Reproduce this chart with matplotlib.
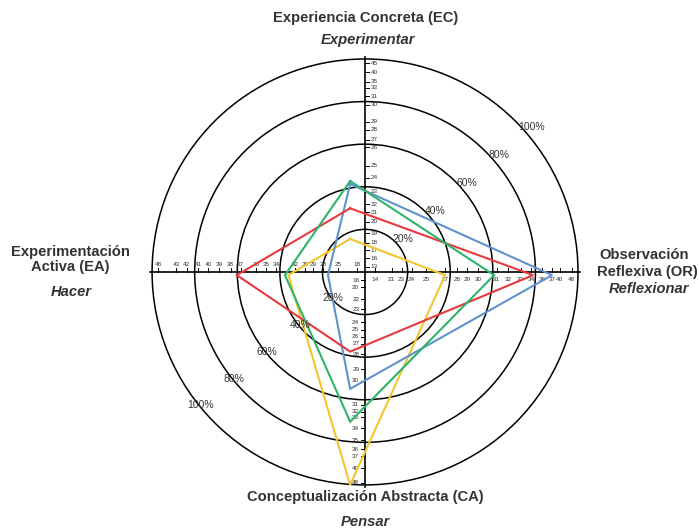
import numpy as np
import matplotlib
matplotlib.use("Agg")
import matplotlib.pyplot as plt
from matplotlib.patches import Circle

plt.rcParams["font.family"] = ["Liberation Sans", "DejaVu Sans"]

# ── Axis scales: raw score labels and where they sit (percent of outer ring) ──
EC_LABELS = [13, 16, 17, 18, 19, 20, 21, 22, 23, 24, 25, 26, 27, 28, 29, 30, 31, 33, 35, 40, 45]
EC_PCT = [2.5, 6.4, 10.3, 13.8, 18.2, 23.6, 28.0, 31.9, 37.7, 44.3, 49.8, 58.5, 62.0,
          66.7, 70.6, 78.4, 82.6, 86.5, 89.3, 93.8, 98.0]

OR_LABELS = [14, 21, 23, 24, 25, 27, 28, 29, 30, 31, 32, 33, 34, 36, 37, 40, 48]
OR_PCT = [4.7, 12.5, 17.2, 21.9, 28.6, 37.6, 43.1, 48.0, 53.2, 61.8, 67.3, 73.0, 77.9,
          83.1, 87.8, 91.5, 97.0]

CA_LABELS = [16, 20, 22, 23, 24, 25, 26, 27, 28, 29, 30, 31, 32, 33, 34, 35, 36, 37, 40, 48]
CA_PCT = [3.8, 7.2, 12.8, 17.5, 23.6, 27.2, 30.4, 33.8, 38.6, 45.7, 51.2, 62.4, 65.6,
          68.3, 73.4, 79.1, 83.3, 86.5, 92.2, 99.1]

EA_LABELS = [18, 25, 28, 29, 30, 32, 34, 35, 36, 37, 38, 39, 40, 41, 42, 43, 48]
EA_PCT = [3.9, 12.5, 19.6, 24.3, 28.2, 32.9, 41.8, 46.5, 51.2, 58.4, 63.1, 68.5, 73.6,
          78.3, 83.7, 88.7, 97.0]

RINGS = [20, 40, 60, 80, 100]

# ── Series (percent along each axis: EC, OR, CA, EA) ──
blue = [41.3, 87.8, 54.9, 17.4]
green = [42.7, 60.6, 70.3, 37.6]
red = [29.9, 78.9, 37.4, 60.2]
yellow = [15.5, 37.6, 100.0, 36.0]

series = [
    (yellow, "#f2c531"),
    (blue, "#5f93cc"),
    (red, "#e63a3f"),
    (green, "#2eb36b"),
]

TXT = "#333333"
VERT_SHIFT = -7.0    # vertices on EC/CA sit a bit left of the axis in the original
HORZ_SHIFT = -1.5

fig = plt.figure(figsize=(6.99, 5.29), dpi=100)
ax = fig.add_axes([0, 0, 1, 1])
ax.set_xlim(-171.4, 156.8)
ax.set_ylim(-120.7, 127.7)
ax.set_aspect("equal")
ax.axis("off")

# rings
for r in RINGS:
    ax.add_patch(Circle((0, 0), r, fill=False, ec="black", lw=1.1, zorder=2))

# axes lines
ax.plot([-101, 101], [0, 0], color="black", lw=1.2, zorder=3)
ax.plot([0, 0], [-101, 101], color="black", lw=1.2, zorder=3)

tk = 1.9
fs = 4.6
for lab, p in zip(EC_LABELS, EC_PCT):
    ax.plot([0, tk], [p, p], color="black", lw=0.7, zorder=3)
    ax.text(tk + 0.8, p, str(lab), fontsize=fs, ha="left", va="center", color=TXT)
for lab, p in zip(CA_LABELS, CA_PCT):
    ax.plot([0, -tk], [-p, -p], color="black", lw=0.7, zorder=3)
    ax.text(-tk - 0.8, -p, str(lab), fontsize=fs, ha="right", va="center", color=TXT)
for lab, p in zip(OR_LABELS, OR_PCT):
    ax.plot([p, p], [0, tk], color="black", lw=0.7, zorder=3)
    ax.text(p, -3.6, str(lab), fontsize=fs, ha="center", va="center", color=TXT)
for lab, p in zip(EA_LABELS, EA_PCT):
    ax.plot([-p, -p], [0, tk], color="black", lw=0.7, zorder=3)
    ax.text(-p, 3.6, str(lab), fontsize=fs, ha="center", va="center", color=TXT)

# ring percentage labels
for r in RINGS:
    a1 = np.deg2rad(41)
    ax.text((r + 3.5) * np.cos(a1), (r + 3.5) * np.sin(a1), f"{r}%",
            fontsize=7.5, ha="center", va="center", color=TXT, zorder=5)
    a2 = np.deg2rad(219)
    ax.text((r - 0.5) * np.cos(a2), (r - 0.5) * np.sin(a2), f"{r}%",
            fontsize=7.5, ha="center", va="center", color=TXT, zorder=5)

# polygons
for vals, col in series:
    ec, orr, ca, ea = vals
    xs = [VERT_SHIFT, orr, VERT_SHIFT, -ea, VERT_SHIFT]
    ys = [ec, HORZ_SHIFT, -ca, HORZ_SHIFT, ec]
    ax.plot(xs, ys, color=col, lw=1.5, zorder=4, solid_joinstyle="miter")

# axis titles
tfs = 10.6
ax.text(0.5, 119.2, "Experiencia Concreta (EC)", fontsize=tfs, fontweight="bold",
        ha="center", va="center", color=TXT)
ax.text(1.5, 108.9, "Experimentar", fontsize=tfs, fontweight="bold", style="italic",
        ha="center", va="center", color=TXT)

ax.text(0, -105.5, "Conceptualización Abstracta (CA)", fontsize=tfs, fontweight="bold",
        ha="center", va="center", color=TXT)
ax.text(0, -117.3, "Pensar", fontsize=tfs, fontweight="bold", style="italic",
        ha="center", va="center", color=TXT)

ax.text(-138.5, 9.5, "Experimentación", fontsize=tfs, fontweight="bold",
        ha="center", va="center", color=TXT)
ax.text(-138.5, 2.3, "Activa (EA)", fontsize=tfs, fontweight="bold",
        ha="center", va="center", color=TXT)
ax.text(-138, -9.2, "Hacer", fontsize=tfs, fontweight="bold", style="italic",
        ha="center", va="center", color=TXT)

ax.text(131, 8, "Observación", fontsize=tfs, fontweight="bold",
        ha="center", va="center", color=TXT)
ax.text(109, 0.1, "Reflexiva (OR)", fontsize=tfs, fontweight="bold",
        ha="left", va="center", color=TXT)
ax.text(133.5, -8.2, "Reflexionar", fontsize=tfs, fontweight="bold", style="italic",
        ha="center", va="center", color=TXT)

fig.savefig("out.png", dpi=100)
